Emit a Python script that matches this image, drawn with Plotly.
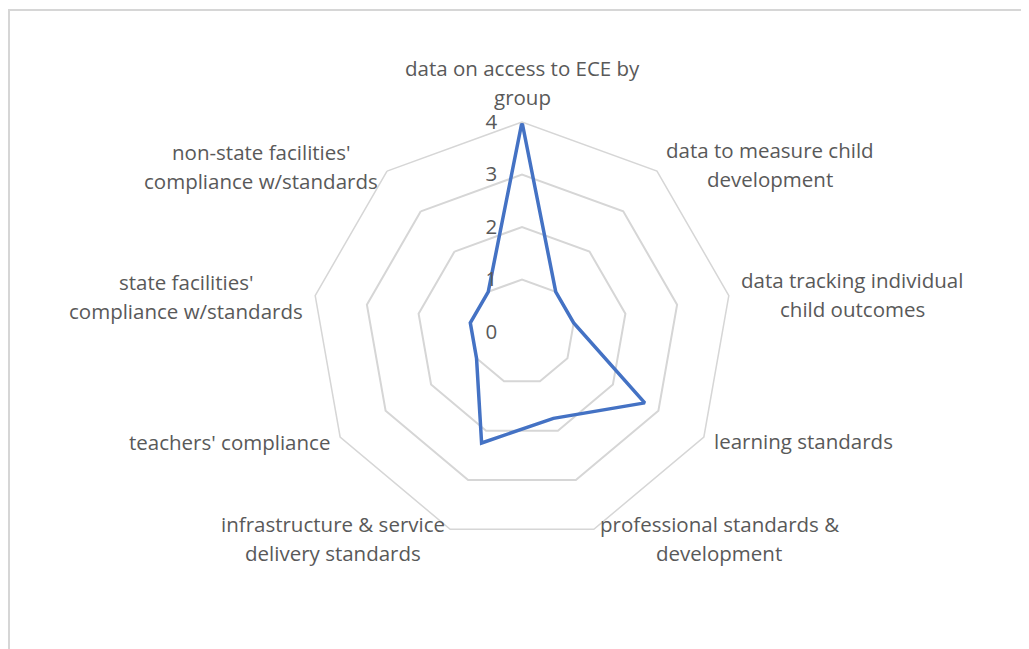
import plotly.graph_objects as go

categories = [
    "data on access to ECE by<br>group",
    "data to measure child<br>development",
    "data tracking individual<br>child outcomes",
    "learning standards",
    "professional standards &<br>development",
    "infrastructure & service<br>delivery standards",
    "teachers' compliance",
    "state facilities'<br>compliance w/standards",
    "non-state facilities'<br>compliance w/standards",
]
scores = [4, 1, 1, 2.7, 1.75, 2.25, 1, 1, 1]
radial_ticks = [0, 1, 2, 3, 4]

# the page has an 8px body margin, so work in page pixels and shift
OFF = 8
W, H = 1029 - OFF, 649 - OFF
cx, cy, R = 522 - OFF, 332 - OFF, 210

# where each category label sits (centre of first line, page pixels)
label_pos = [(522, 68), (770, 150), (852, 280), (803, 441), (719, 524),
             (333, 524), (229, 442), (186, 282), (261, 152)]
line_gap = 29

grey = "#595959"
grid = "#D6D6D6"
font_family = "Open Sans"
fsize = 20.5

fig = go.Figure()
fig.add_trace(go.Scatterpolar(
    r=scores + scores[:1],
    theta=categories + categories[:1],
    mode="lines",
    line=dict(color="#4472C4", width=3.5),
    showlegend=False,
))

annotations = []
for name, (x, y) in zip(categories, label_pos):
    for k, line in enumerate(name.split("<br>")):
        annotations.append(dict(
            x=(x - OFF) / W, y=1 - (y - OFF + k * line_gap) / H,
            xref="paper", yref="paper",
            xanchor="center", yanchor="middle",
            text=line, showarrow=False,
            font=dict(size=fsize, color=grey, family=font_family),
        ))

fig.update_layout(
    width=W, height=H,
    margin=dict(l=0, r=0, t=0, b=0),
    paper_bgcolor="white",
    font=dict(family=font_family, color=grey, size=fsize),
    polar=dict(
        domain=dict(x=[(cx - R) / W, (cx + R) / W],
                    y=[1 - (cy + R) / H, 1 - (cy - R) / H]),
        gridshape="linear",
        bgcolor="white",
        radialaxis=dict(
            range=[0, 4], tickvals=radial_ticks, angle=90, tickangle=90,
            side="counterclockwise", showline=False,
            gridcolor=grid, gridwidth=1.5,
            ticks="outside", ticklen=17, tickcolor="rgba(0,0,0,0)",
            tickfont=dict(size=fsize, color=grey),
        ),
        angularaxis=dict(
            rotation=90, direction="clockwise",
            showgrid=False, showline=True, linecolor=grid, linewidth=1.5,
            showticklabels=False, ticks="",
        ),
    ),
    annotations=annotations,
    shapes=[dict(type="rect", xref="paper", yref="paper",
                 x0=1 / W, x1=1.05, y0=-0.05, y1=1 - 2 / H,
                 line=dict(color=grid, width=2))],
)

fig.write_html("out.html")
